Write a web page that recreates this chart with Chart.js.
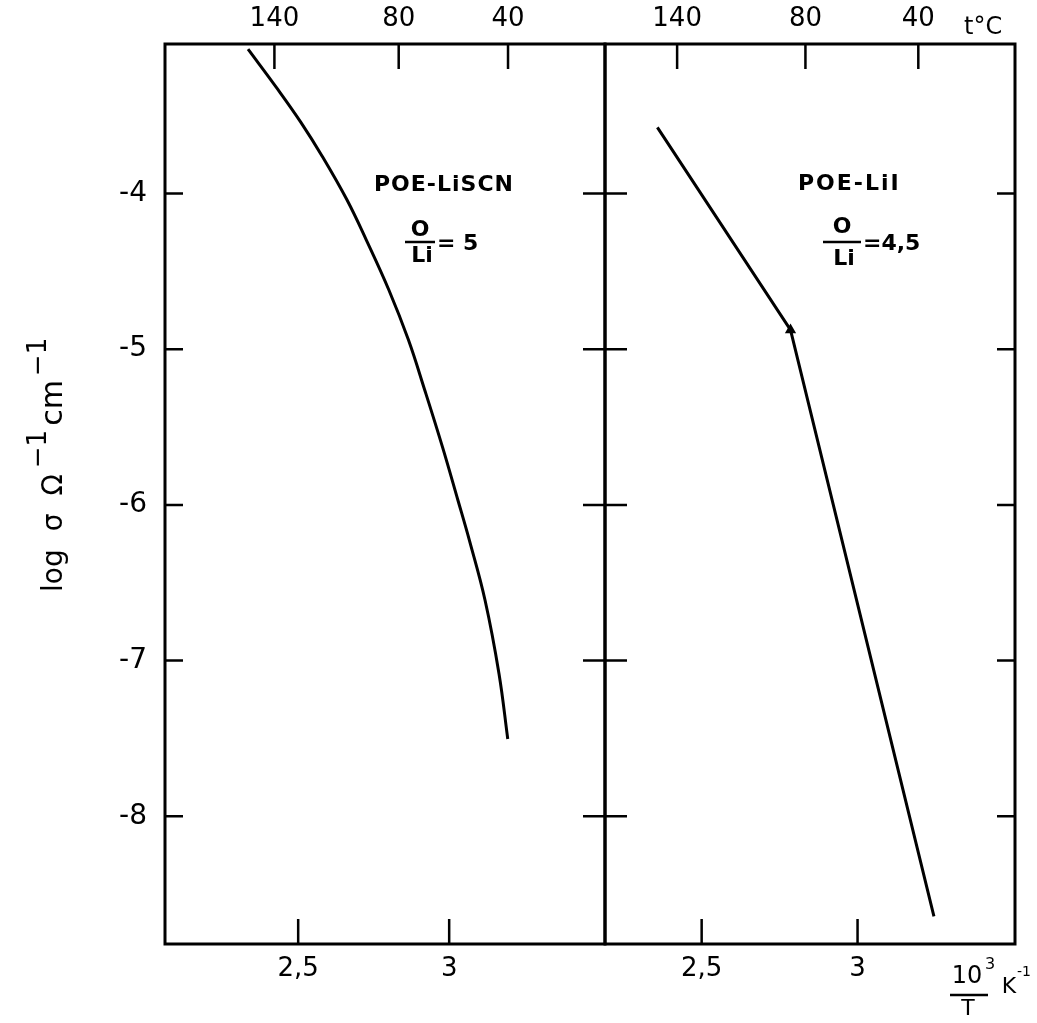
<!DOCTYPE html>
<html>
<head>
<meta charset="utf-8">
<script src="https://cdn.jsdelivr.net/npm/chart.js@4.4.1/dist/chart.umd.min.js"></script>
<style>
  body { margin: 0; background: #fff; width: 1037px; height: 1023px; overflow: hidden; position: relative; }
  canvas { position: absolute; top: 0; }
  #left { left: 0; }
  #right { left: 575px; }
</style>
</head>
<body>
<canvas id="left" width="640" height="1023"></canvas>
<canvas id="right" width="462" height="1023"></canvas>
<script>
// axis ticks
const xTicks = [2.5, 3];
const xTickLabels = ['2,5', '3'];
const tempTicks = [140, 80, 40];          // top axis, t in °C
const yTicks = [-4, -5, -6, -7, -8];

// POE-LiSCN, O/Li = 5  (10^3/T, log sigma)
const liscnX = [2.334, 2.432, 2.509, 2.580, 2.661, 2.725, 2.800, 2.865, 2.919, 2.978, 3.029, 3.067, 3.119, 3.165, 3.194];
const liscnY = [-3.073, -3.330, -3.543, -3.762, -4.039, -4.296, -4.618, -4.940, -5.262, -5.629, -5.970, -6.228, -6.614, -7.084, -7.503];

// POE-LiI, O/Li = 4,5
const liiX = [2.358, 2.785, 3.245];
const liiY = [-3.575, -4.876, -8.643];

const FONT = 'DejaVu Sans';
const Y_MIN = -8.82, Y_MAX = -3.04;

const framePlugin = {
  id: 'frame',
  afterDraw(chart, args, o) {
    const { ctx, chartArea: a, scales } = chart;
    ctx.save();
    ctx.strokeStyle = '#000';
    ctx.lineWidth = 3;
    ctx.strokeRect(a.left, a.top, a.right - a.left, a.bottom - a.top);
    ctx.lineWidth = 2.5;
    ctx.beginPath();
    yTicks.forEach(v => {
      const py = scales.y.getPixelForValue(v);
      if (o.yLeft) { ctx.moveTo(a.left, py); ctx.lineTo(a.left + 18, py); }
      if (o.yCross) { ctx.moveTo(a.right - 22, py); ctx.lineTo(a.right + 22, py); }
      if (o.yRightIn) { ctx.moveTo(a.right - 18, py); ctx.lineTo(a.right, py); }
    });
    xTicks.forEach(v => {
      const px = scales.x.getPixelForValue(v);
      ctx.moveTo(px, a.bottom); ctx.lineTo(px, a.bottom - 25);
    });
    tempTicks.forEach(t => {
      const px = scales.xt.getPixelForValue(1000 / (t + 273));
      ctx.moveTo(px, a.top); ctx.lineTo(px, a.top + 25);
    });
    ctx.stroke();
    ctx.restore();
  }
};

function fraction(ctx, cx, ratio, rest) {
  // O over Li, with a bar, then "= n"
  ctx.font = 'bold 22px ' + FONT;
  ctx.textAlign = 'center';
  ctx.textBaseline = 'middle';
  ctx.fillText('O', cx, ratio.oy);
  ctx.fillText('Li', cx + 2, ratio.ly);
  ctx.lineWidth = 2.5;
  ctx.beginPath();
  ctx.moveTo(cx - ratio.half, ratio.by);
  ctx.lineTo(cx + ratio.half, ratio.by);
  ctx.stroke();
  ctx.textAlign = 'left';
  ctx.fillText(rest, cx + ratio.half + 2, ratio.by + 2);
}

const notesPlugin = {
  id: 'notes',
  afterDraw(chart, args, o) {
    const ctx = chart.ctx;
    ctx.save();
    ctx.fillStyle = '#000';
    ctx.strokeStyle = '#000';
    o.draw(ctx);
    ctx.restore();
  }
};

function drawLeftNotes(ctx) {
  // y axis title
  ctx.save();
  ctx.translate(62, 592);
  ctx.rotate(-Math.PI / 2);
  ctx.textAlign = 'left';
  ctx.textBaseline = 'alphabetic';
  let x = 0;
  const part = (s, size, dy, gap) => {
    ctx.font = size + 'px ' + FONT;
    ctx.fillText(s, x, dy);
    x += ctx.measureText(s).width + gap;
  };
  part('log', 28, 0, 18);
  part('σ', 28, 0, 18);
  part('Ω', 28, 0, 6);
  part('−1', 26, -16, 4);
  part('cm', 30, 0, 4);
  part('−1', 26, -16, 0);
  ctx.restore();

  ctx.letterSpacing = '1px';
  ctx.font = 'bold 22px ' + FONT;
  ctx.textAlign = 'left';
  ctx.textBaseline = 'middle';
  ctx.fillText('POE-LiSCN', 374, 185);
  ctx.letterSpacing = '0px';
  fraction(ctx, 420, { oy: 230, ly: 256, by: 242, half: 15 }, '= 5');
}

function drawRightNotes(ctx) {
  const ox = 575;
  ctx.letterSpacing = '2px';
  ctx.font = 'bold 22px ' + FONT;
  ctx.textAlign = 'left';
  ctx.textBaseline = 'middle';
  ctx.fillText('POE-LiI', 798 - ox, 184);
  ctx.letterSpacing = '0px';
  fraction(ctx, 842 - ox, { oy: 227, ly: 259, by: 242, half: 19 }, '=4,5');

  // t°C next to the top axis
  ctx.font = '24px ' + FONT;
  ctx.textAlign = 'left';
  ctx.fillText('t°C', 964 - ox, 28);

  // 10^3 / T  K^-1
  ctx.textAlign = 'center';
  ctx.font = '24px ' + FONT;
  ctx.fillText('10', 967 - ox, 977);
  ctx.font = '16px ' + FONT;
  ctx.fillText('3', 990 - ox, 965);
  ctx.lineWidth = 2.5;
  ctx.beginPath();
  ctx.moveTo(950 - ox, 995);
  ctx.lineTo(988 - ox, 995);
  ctx.stroke();
  ctx.font = '22px ' + FONT;
  ctx.fillText('T', 968 - ox, 1009);
  ctx.fillText('K', 1009 - ox, 987);
  ctx.font = '14px ' + FONT;
  ctx.fillText('-1', 1024 - ox, 972);
}

function makeScales(xMin, xMax, yWidth) {
  return {
    x: {
      type: 'linear', position: 'bottom', min: xMin, max: xMax,
      afterBuildTicks: s => { s.ticks = xTicks.map(v => ({ value: v })); },
      afterFit: s => { s.height = 79; },
      grid: { display: false, drawTicks: false },
      border: { display: false },
      ticks: {
        autoSkip: false, maxRotation: 0, padding: 10, color: '#000',
        font: { family: FONT, size: 26 },
        callback: (v, i) => xTickLabels[i]
      }
    },
    xt: {
      type: 'linear', position: 'top', min: xMin, max: xMax,
      afterBuildTicks: s => { s.ticks = tempTicks.map(t => ({ value: 1000 / (t + 273) })); },
      afterFit: s => { s.height = 44; },
      grid: { display: false, drawTicks: false },
      border: { display: false },
      ticks: {
        autoSkip: false, maxRotation: 0, padding: 9, color: '#000',
        font: { family: FONT, size: 26 },
        callback: (v, i) => String(tempTicks[i])
      }
    },
    y: {
      type: 'linear', min: Y_MIN, max: Y_MAX, display: yWidth > 0,
      afterBuildTicks: s => { s.ticks = yTicks.map(v => ({ value: v })); },
      afterFit: s => { s.width = yWidth; },
      grid: { display: false, drawTicks: false },
      border: { display: false },
      ticks: {
        padding: 18, color: '#000',
        font: { family: FONT, size: 28 },
        callback: v => String(v)
      }
    }
  };
}

const common = {
  responsive: false,
  animation: false,
  events: []
};

new Chart(document.getElementById('left'), {
  type: 'line',
  data: {
    datasets: [{
      label: 'POE-LiSCN',
      data: liscnX.map((x, i) => ({ x, y: liscnY[i] })),
      borderColor: '#000', borderWidth: 3, pointRadius: 0,
      tension: 0.4, fill: false
    }]
  },
  options: {
    ...common,
    layout: { padding: { left: 0, right: 35, top: 0, bottom: 0 } },
    scales: makeScales(2.059, 3.516, 165),
    plugins: {
      legend: { display: false }, tooltip: { enabled: false },
      frame: { yLeft: true, yCross: true },
      notes: { draw: drawLeftNotes }
    }
  },
  plugins: [framePlugin, notesPlugin]
});

new Chart(document.getElementById('right'), {
  type: 'line',
  data: {
    datasets: [{
      label: 'POE-LiI',
      data: liiX.map((x, i) => ({ x, y: liiY[i] })),
      borderColor: '#000', backgroundColor: '#000', borderWidth: 3,
      pointRadius: [0, 3.5, 0], pointStyle: 'triangle', tension: 0, fill: false
    }]
  },
  options: {
    ...common,
    layout: { padding: { left: 30, right: 22, top: 0, bottom: 0 } },
    scales: makeScales(2.19, 3.505, 0),
    plugins: {
      legend: { display: false }, tooltip: { enabled: false },
      frame: { yRightIn: true },
      notes: { draw: drawRightNotes }
    }
  },
  plugins: [framePlugin, notesPlugin]
});
</script>
</body>
</html>
